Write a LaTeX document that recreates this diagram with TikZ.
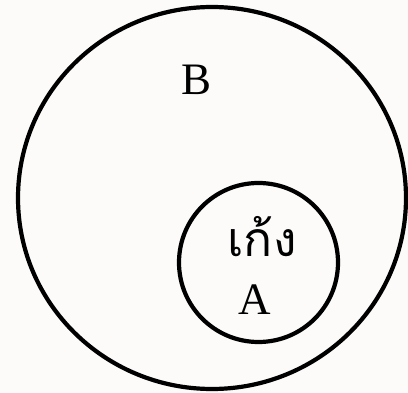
\documentclass[tikz,border=0pt]{standalone}
\usepackage{fontspec}
\setmainfont{Liberation Serif}
\newfontfamily\thaifont[Script=Thai]{Loma}
\definecolor{bgc}{RGB}{252,251,250}
\begin{document}
\begin{tikzpicture}[x=1pt,y=-1pt,
  ring/.style={draw=black,line width=4.2pt},
  lbl/.style={anchor=base,inner sep=0pt,font=\fontsize{45}{50}\selectfont}]
\useasboundingbox[fill=bgc] (0,0) rectangle (408,393);
\draw[ring] (212,198) ellipse[x radius=194, y radius=191];
\draw[ring] (258.5,262.5) circle[radius=79.5];
\node[lbl] (b) at (197,95) {B};
\node[lbl,font=\fontsize{48}{54}\thaifont] (t) at (262,257) {เก้ง};
\node[lbl] (a) at (255,315) {A};
\end{tikzpicture}
\end{document}
